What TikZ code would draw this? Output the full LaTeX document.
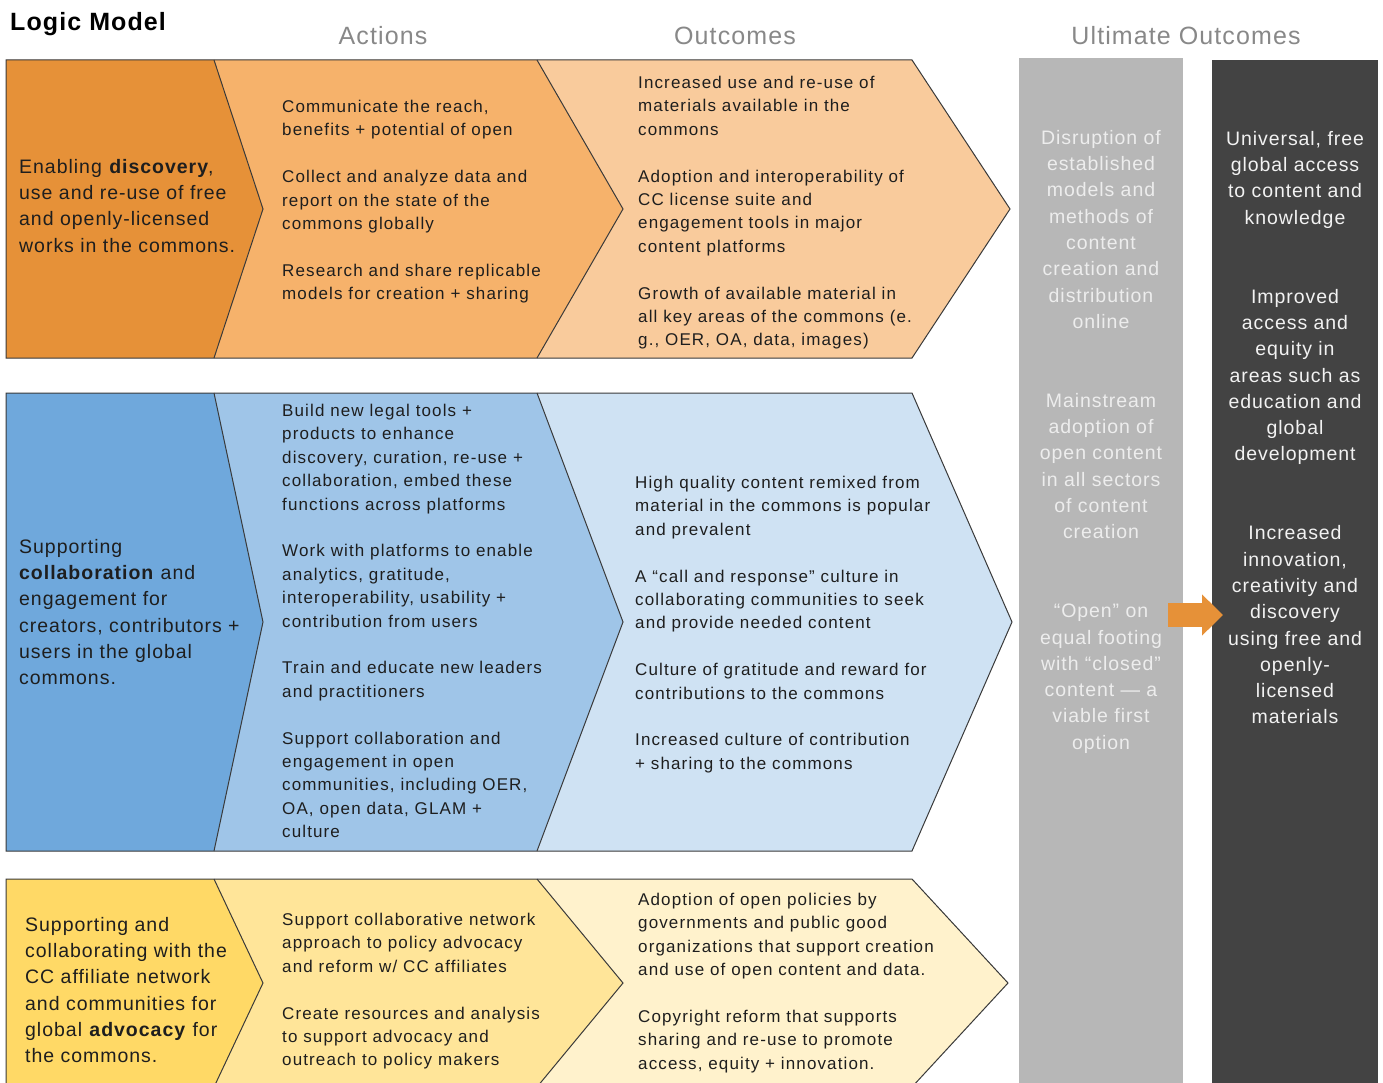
\documentclass[tikz,border=0pt]{standalone}
\usepackage{fontspec}
\setmainfont{Liberation Sans}
\usetikzlibrary{arrows.meta}
\definecolor{orgdark}{HTML}{E69138}
\definecolor{orgmid}{HTML}{F6B26B}
\definecolor{orglight}{HTML}{F9CB9C}
\definecolor{bludark}{HTML}{6FA8DC}
\definecolor{blumid}{HTML}{9FC5E8}
\definecolor{blulight}{HTML}{CFE2F3}
\definecolor{yeldark}{HTML}{FFD966}
\definecolor{yelmid}{HTML}{FFE599}
\definecolor{yellight}{HTML}{FFF2CC}
\definecolor{colgray}{HTML}{B7B7B7}
\definecolor{coldark}{HTML}{434343}
\definecolor{headgray}{HTML}{888888}
\definecolor{txtdark}{HTML}{1E1E1E}
\definecolor{edgegray}{HTML}{3A3A3A}
\tikzset{
  bandline/.style={draw=edgegray, line width=1pt, line join=miter},
  bandtext/.style={anchor=north west, inner sep=0pt, align=left, text=txtdark, font=\fontsize{17}{23.4}\selectfont\addfontfeatures{LetterSpace=6.6}},
  leadtext/.style={anchor=north west, inner sep=0pt, align=left, text=txtdark, font=\fontsize{19.5}{26.3}\selectfont\addfontfeatures{LetterSpace=5}},
  coltext/.style={anchor=north, inner sep=0pt, align=center, font=\fontsize{19.5}{26.3}\selectfont\addfontfeatures{LetterSpace=4.8}},
  headtext/.style={anchor=base, inner sep=0pt, text=headgray, font=\fontsize{25}{30}\selectfont\addfontfeatures{LetterSpace=4.4}},
  bigarrow/.style={line width=24pt, draw=orgdark, -{Triangle[length=21pt,width=40pt]}}
}
% one chevron band: top y, bottom y, tip x, fills left to right
\newcommand{\logicband}[6]{%
  \pgfmathsetmacro{\bandmid}{(#1+#2)/2}
  \fill[#6] (537,#1) -- (912,#1) -- (#3,\bandmid) -- (912,#2) -- (537,#2) -- (623,\bandmid) -- cycle;
  \fill[#5] (214,#1) -- (537,#1) -- (623,\bandmid) -- (537,#2) -- (214,#2) -- (263,\bandmid) -- cycle;
  \fill[#4] (6,#1) -- (214,#1) -- (263,\bandmid) -- (214,#2) -- (6,#2) -- cycle;
  \draw[bandline] (214,#1) -- (263,\bandmid) -- (214,#2);
  \draw[bandline] (537,#1) -- (623,\bandmid) -- (537,#2);
  \draw[bandline] (6,#1) -- (912,#1) -- (#3,\bandmid) -- (912,#2) -- (6,#2) -- cycle;
}
\begin{document}
\begin{tikzpicture}[x=1pt, y=-1pt]
\useasboundingbox (0,0) rectangle (1383,1083);
\fill[white] (0,0) rectangle (1383,1083);

% headings
\node[headtext, anchor=base west, text=black, font=\fontsize{25}{30}\selectfont\bfseries\addfontfeatures{LetterSpace=4.4}] (title) at (10,31) {Logic Model};
\node[headtext] (hdactions) at (383,45) {Actions};
\node[headtext] (hdoutcomes) at (735,45) {Outcomes};
\node[headtext] (hdultimate) at (1186,45) {Ultimate Outcomes};

% the three bands
\logicband{60}{358}{1010}{orgdark}{orgmid}{orglight}
\logicband{393}{851}{1012}{bludark}{blumid}{blulight}
\logicband{879}{1087}{1008}{yeldark}{yelmid}{yellight}

% ultimate outcome columns
\fill[colgray] (1019,58) rectangle (1183,1090);
\fill[coldark] (1212,60) rectangle (1378,1090);
\coordinate (arrowstart) at (1168,615);
\coordinate (arrowend) at (1223,615);
\draw[bigarrow] (arrowstart) -- (arrowend);

% band 1
\node[leadtext] (discovery) at (19,159) {Enabling \textbf{discovery},\\use and re-use of free\\and openly-licensed\\works in the commons.};
\node[bandtext] (discacts) at (282,100) {Communicate the reach,\\benefits + potential of open\\[23.4pt]
Collect and analyze data and\\report on the state of the\\commons globally\\[23.4pt]
Research and share replicable\\models for creation + sharing};
\node[bandtext] (discouts) at (638,76) {Increased use and re-use of\\materials available in the\\commons\\[23.4pt]
Adoption and interoperability of\\CC license suite and\\engagement tools in major\\content platforms\\[23.4pt]
Growth of available material in\\all key areas of the commons (e.\\g., OER, OA, data, images)};

% band 2
\node[leadtext] (collab) at (19,539) {Supporting\\\textbf{collaboration} and\\engagement for\\creators, contributors +\\users in the global\\commons.};
\node[bandtext] (collabacts) at (282,404) {Build new legal tools +\\products to enhance\\discovery, curation, re-use +\\collaboration, embed these\\functions across platforms\\[23.4pt]
Work with platforms to enable\\analytics, gratitude,\\interoperability, usability +\\contribution from users\\[23.4pt]
Train and educate new leaders\\and practitioners\\[23.4pt]
Support collaboration and\\engagement in open\\communities, including OER,\\OA, open data, GLAM +\\culture};
\node[bandtext] (collabouts) at (635,476) {High quality content remixed from\\material in the commons is popular\\and prevalent\\[23.4pt]
A “call and response” culture in\\collaborating communities to seek\\and provide needed content\\[23.4pt]
Culture of gratitude and reward for\\contributions to the commons\\[23.4pt]
Increased culture of contribution\\+ sharing to the commons};

% band 3
\node[leadtext] (advocacy) at (25,917) {Supporting and\\collaborating with the\\CC affiliate network\\and communities for\\global \textbf{advocacy} for\\the commons.};
\node[bandtext] (advacts) at (282,913) {Support collaborative network\\approach to policy advocacy\\and reform w/ CC affiliates\\[23.4pt]
Create resources and analysis\\to support advocacy and\\outreach to policy makers};
\node[bandtext] (advouts) at (638,893) {Adoption of open policies by\\governments and public good\\organizations that support creation\\and use of open content and data.\\[23.4pt]
Copyright reform that supports\\sharing and re-use to promote\\access, equity + innovation.};

% column texts
\node[coltext, text=white!93!black] (disrupt) at (1101,130) {Disruption of\\established\\models and\\methods of\\content\\creation and\\distribution\\online\\[52.6pt]
Mainstream\\adoption of\\open content\\in all sectors\\of content\\creation\\[52.6pt]
“Open” on\\equal footing\\with “closed”\\content — a\\viable first\\option};
\node[coltext, text=white!95!black] (universal) at (1295,131) {Universal, free\\global access\\to content and\\knowledge\\[52.6pt]
Improved\\access and\\equity in\\areas such as\\education and\\global\\development\\[52.6pt]
Increased\\innovation,\\creativity and\\discovery\\using free and\\openly-\\licensed\\materials};
\end{tikzpicture}
\end{document}
